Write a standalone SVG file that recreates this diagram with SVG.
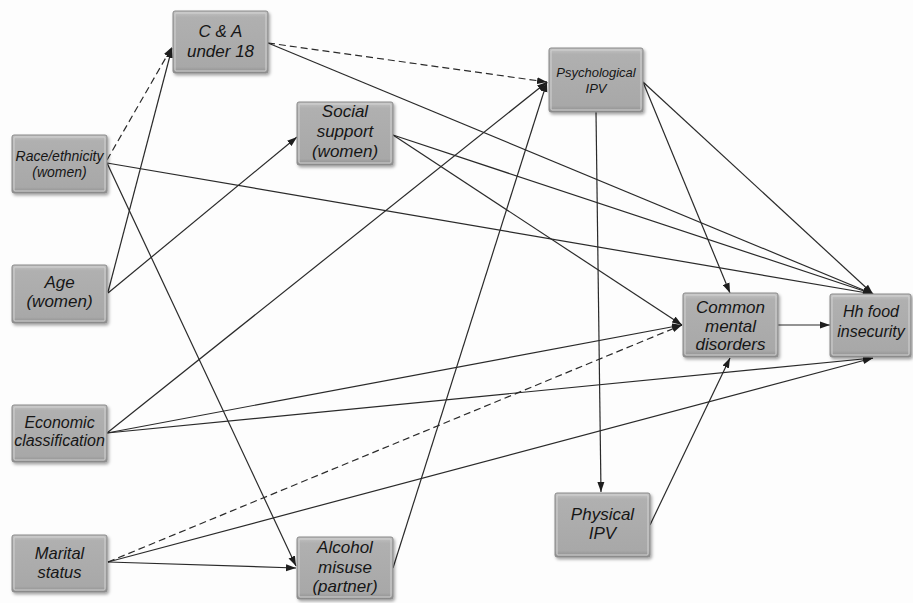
<svg xmlns="http://www.w3.org/2000/svg" width="913" height="603" viewBox="0 0 913 603">
<defs>
<linearGradient id="g" x1="0" y1="0" x2="0" y2="1">
<stop offset="0" stop-color="#c4c4c4"/>
<stop offset="0.1" stop-color="#b0b0b0"/>
<stop offset="0.9" stop-color="#a8a8a8"/>
<stop offset="1" stop-color="#8c8c8c"/>
</linearGradient>
<filter id="sh" x="-10%" y="-10%" width="125%" height="130%">
<feDropShadow dx="1.5" dy="2" stdDeviation="1.5" flood-color="#000" flood-opacity="0.35"/>
</filter>
<marker id="ah" markerUnits="userSpaceOnUse" markerWidth="10" markerHeight="8" refX="10" refY="4" orient="auto">
<path d="M0,0.5 L10,4 L0,7.5 z" fill="#1e1e1e"/>
</marker>
</defs>
<style>
.box{fill:url(#g);stroke:#888;stroke-width:1;filter:url(#sh)}
.hl{fill:none;stroke:#d2d2d2;stroke-width:1}
.t{font-family:"Liberation Sans",Arial,sans-serif;font-style:italic;fill:#161616;text-anchor:middle}
.e{fill:none;stroke:#2a2a2a;stroke-width:1.2;marker-end:url(#ah)}
.d{stroke-dasharray:7 4}
</style>
<rect width="913" height="603" fill="#fdfdfd"/>
<g id="connectors">
<path class="e d" d="M107,160 L172,47"/>
<path class="e" d="M108,292 L172,48"/>
<path class="e" d="M107,163 L296,566"/>
<path class="e" d="M107,163 L873,294"/>
<path class="e" d="M108,293 L297,137"/>
<path class="e d" d="M268,43 L547,82"/>
<path class="e" d="M268,43 L873,294"/>
<path class="e" d="M393,135 L682,325"/>
<path class="e" d="M393,135 L873,294"/>
<path class="e" d="M107,433 L547,82"/>
<path class="e" d="M107,433 L682,325"/>
<path class="e" d="M107,433 L873,358"/>
<path class="e d" d="M108,562 L682,325"/>
<path class="e" d="M108,562 L873,358"/>
<path class="e" d="M108,562 L296,568"/>
<path class="e" d="M393,568 L547,82"/>
<path class="e" d="M596,112 L601,492"/>
<path class="e" d="M643,82 L730,293"/>
<path class="e" d="M643,82 L873,294"/>
<path class="e" d="M650,525 L730,358"/>
<path class="e" d="M778,325 L830,325"/>
</g>
<g id="ca">
<rect class="box" x="173" y="11" width="95" height="62" rx="2"/>
<rect class="hl" x="175" y="13" width="91" height="58" rx="1"/>
<text class="t" font-size="17" x="220.5" y="37">C &amp; A</text>
<text class="t" font-size="17" x="220.5" y="57">under 18</text>
</g>
<g id="race">
<rect class="box" x="12" y="135" width="95" height="58" rx="2"/>
<rect class="hl" x="14" y="137" width="91" height="54" rx="1"/>
<text class="t" font-size="14" x="59.5" y="161">Race/ethnicity</text>
<text class="t" font-size="14" x="59.5" y="177">(women)</text>
</g>
<g id="age">
<rect class="box" x="12" y="265" width="95" height="58" rx="2"/>
<rect class="hl" x="14" y="267" width="91" height="54" rx="1"/>
<text class="t" font-size="17" x="59.5" y="288">Age</text>
<text class="t" font-size="17" x="59.5" y="307">(women)</text>
</g>
<g id="social">
<rect class="box" x="297" y="102" width="96" height="63" rx="2"/>
<rect class="hl" x="299" y="104" width="92" height="59" rx="1"/>
<text class="t" font-size="17" x="345" y="117">Social</text>
<text class="t" font-size="17" x="345" y="137">support</text>
<text class="t" font-size="17" x="345" y="157">(women)</text>
</g>
<g id="econ">
<rect class="box" x="12" y="405" width="95" height="57" rx="2"/>
<rect class="hl" x="14" y="407" width="91" height="53" rx="1"/>
<text class="t" font-size="16" x="59.5" y="428">Economic</text>
<text class="t" font-size="16" x="59.5" y="446">classification</text>
</g>
<g id="marital">
<rect class="box" x="12" y="535" width="95" height="57" rx="2"/>
<rect class="hl" x="14" y="537" width="91" height="53" rx="1"/>
<text class="t" font-size="16.5" x="59.5" y="559">Marital</text>
<text class="t" font-size="16.5" x="59.5" y="578">status</text>
</g>
<g id="alcohol">
<rect class="box" x="297" y="537" width="96" height="62" rx="2"/>
<rect class="hl" x="299" y="539" width="92" height="58" rx="1"/>
<text class="t" font-size="17" x="345" y="553">Alcohol</text>
<text class="t" font-size="17" x="345" y="573">misuse</text>
<text class="t" font-size="17" x="345" y="592">(partner)</text>
</g>
<g id="psych">
<rect class="box" x="549" y="48" width="94" height="64" rx="2"/>
<rect class="hl" x="551" y="50" width="90" height="60" rx="1"/>
<text class="t" font-size="13" x="596" y="77">Psychological</text>
<text class="t" font-size="13" x="596" y="93">IPV</text>
</g>
<g id="cmd">
<rect class="box" x="683" y="293" width="95" height="64" rx="2"/>
<rect class="hl" x="685" y="295" width="91" height="60" rx="1"/>
<text class="t" font-size="17" x="730.5" y="313">Common</text>
<text class="t" font-size="17" x="730.5" y="332">mental</text>
<text class="t" font-size="17" x="730.5" y="350">disorders</text>
</g>
<g id="hh">
<rect class="box" x="830" y="294" width="81" height="63" rx="2"/>
<rect class="hl" x="832" y="296" width="77" height="59" rx="1"/>
<text class="t" font-size="16" x="871" y="317">Hh food</text>
<text class="t" font-size="16" x="871" y="337">insecurity</text>
</g>
<g id="physical">
<rect class="box" x="555" y="493" width="95" height="64" rx="2"/>
<rect class="hl" x="557" y="495" width="91" height="60" rx="1"/>
<text class="t" font-size="17" x="602.5" y="520">Physical</text>
<text class="t" font-size="17" x="602.5" y="539">IPV</text>
</g>
</svg>
